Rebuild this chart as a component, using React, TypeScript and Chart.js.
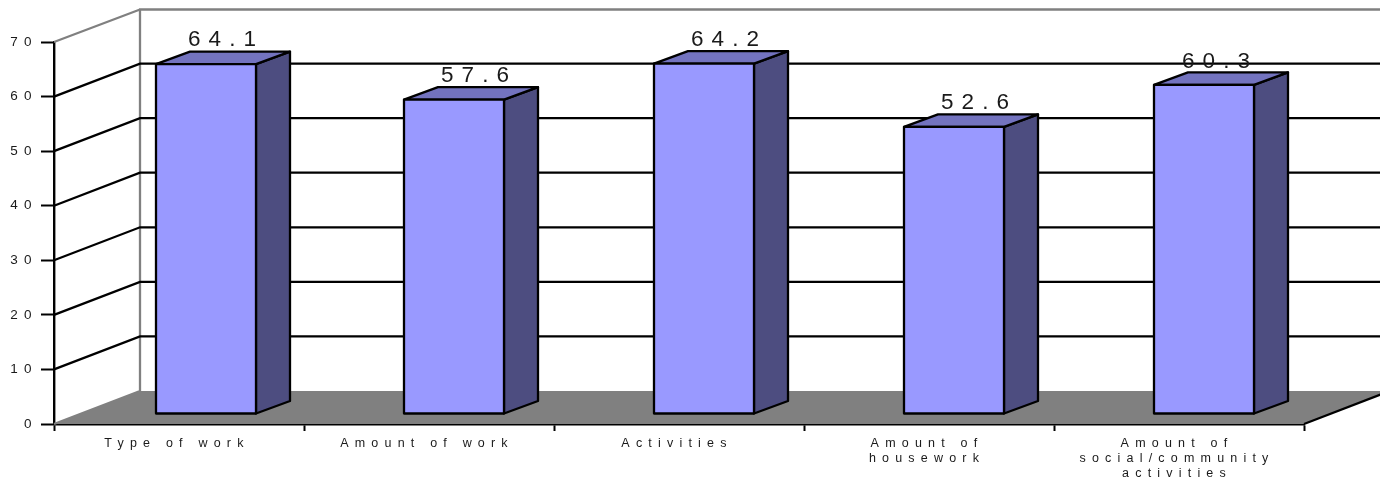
import React, { useEffect, useRef } from "react";
import { Chart, registerables } from "chart.js";

Chart.register(...registerables);

const categories: (string | string[])[] = [
  "Type of work",
  "Amount of work",
  "Activities",
  ["Amount of", "housework"],
  ["Amount of", "social/community", "activities"],
];
const satisfaction = [64.1, 57.6, 64.2, 52.6, 60.3];
const yTickStep = 10;
const yMax = 70;

const FRONT = "#9999FF";
const SIDE = "#4D4D80";
const TOP = "#7373BF";
const FLOOR = "#808080";
const WALL_LINE = "#808080";
const INK = "#1a1a1a";

// 3D projection of the chart box
const BOX_DX = 86;
const BOX_DY = -33;
const BAR_OFF_X = 25;
const BAR_OFF_Y = -10;
const BAR_DX = 34;
const BAR_DY = -12.5;
const FIRST_BAR_NUDGE = 2;
const LABEL_SHIFT_X = [16, 21, 21, 21, 12];
const LABEL_GAP = 5.5;
const LINE = 2.3;

const box3d = {
  id: "box3d",
  beforeDraw(chart: any) {
    chart.ctx.letterSpacing = "6.2px";
  },
  afterDatasetsUpdate(chart: any) {
    const el = chart.getDatasetMeta(0).data[0];
    if (el) el.x += FIRST_BAR_NUDGE;
  },
  beforeDatasetsDraw(chart: any) {
    const { ctx, chartArea, scales, width } = chart;
    const { left, right, top, bottom } = chartArea;
    const y = scales.y;

    ctx.save();
    ctx.lineCap = "butt";
    // floor
    ctx.fillStyle = FLOOR;
    ctx.beginPath();
    ctx.moveTo(left, bottom);
    ctx.lineTo(right, bottom);
    ctx.lineTo(right + BOX_DX, bottom + BOX_DY);
    ctx.lineTo(left + BOX_DX, bottom + BOX_DY);
    ctx.closePath();
    ctx.fill();
    // floor right edge
    ctx.strokeStyle = "#000";
    ctx.lineWidth = LINE;
    ctx.beginPath();
    ctx.moveTo(right, bottom);
    ctx.lineTo(right + BOX_DX, bottom + BOX_DY);
    ctx.stroke();

    // wall frame
    ctx.strokeStyle = WALL_LINE;
    ctx.beginPath();
    ctx.moveTo(left, bottom);
    ctx.lineTo(left + BOX_DX, bottom + BOX_DY);
    ctx.lineTo(left + BOX_DX, top + BOX_DY + 0.5);
    ctx.lineTo(width, top + BOX_DY + 0.5);
    ctx.moveTo(left, top);
    ctx.lineTo(left + BOX_DX, top + BOX_DY + 0.5);
    ctx.stroke();

    // wall grid lines
    ctx.strokeStyle = "#000";
    ctx.beginPath();
    for (const t of y.ticks) {
      if (t.value === 0 || t.value === yMax) continue;
      const py = y.getPixelForValue(t.value);
      ctx.moveTo(left, py);
      ctx.lineTo(left + BOX_DX, py + BOX_DY);
      ctx.lineTo(width, py + BOX_DY);
    }
    ctx.stroke();

    // value labels, under the bars
    const meta = chart.getDatasetMeta(0);
    ctx.letterSpacing = "8px";
    ctx.font = "22.5px 'Liberation Sans', Arial, sans-serif";
    ctx.fillStyle = INK;
    ctx.textAlign = "center";
    ctx.textBaseline = "alphabetic";
    meta.data.forEach((el: any, i: number) => {
      const backTop = el.y + BAR_OFF_Y + BAR_DY;
      ctx.fillText(
        satisfaction[i].toFixed(1),
        el.x + BAR_OFF_X + LABEL_SHIFT_X[i] + 4,
        backTop - LABEL_GAP + (el.y > 150 ? 4 : 0) + (el.y > 90 && el.y < 100 ? 1 : 0)
      );
    });
    ctx.restore();

    // bar sides and tops, in the bar plane
    ctx.save();
    ctx.translate(BAR_OFF_X, BAR_OFF_Y);
    ctx.lineWidth = LINE;
    ctx.strokeStyle = "#000";
    ctx.lineJoin = "round";
    meta.data.forEach((el: any) => {
      const p = el.getProps(["x", "y", "base", "width"], true);
      const l = p.x - p.width / 2;
      const r = p.x + p.width / 2;
      ctx.fillStyle = SIDE;
      ctx.beginPath();
      ctx.moveTo(r, p.y);
      ctx.lineTo(r + BAR_DX, p.y + BAR_DY);
      ctx.lineTo(r + BAR_DX, p.base + BAR_DY);
      ctx.lineTo(r, p.base);
      ctx.closePath();
      ctx.fill();
      ctx.stroke();
      ctx.fillStyle = TOP;
      ctx.beginPath();
      ctx.moveTo(l, p.y);
      ctx.lineTo(l + BAR_DX, p.y + BAR_DY);
      ctx.lineTo(r + BAR_DX, p.y + BAR_DY);
      ctx.lineTo(r, p.y);
      ctx.closePath();
      ctx.fill();
      ctx.stroke();
    });
    // the library's own bars are painted in this plane
  },
  afterDatasetsDraw(chart: any) {
    const { ctx } = chart;
    const meta = chart.getDatasetMeta(0);
    meta.data.forEach((el: any) => {
      const p = el.getProps(["x", "y", "base", "width"], true);
      ctx.strokeRect(p.x - p.width / 2, p.y, p.width, p.base - p.y);
    });
    ctx.restore();
    ctx.letterSpacing = "6.2px";
  },
};

export default function App() {
  const ref = useRef<HTMLCanvasElement>(null);
  useEffect(() => {
    const chart = new Chart(ref.current as HTMLCanvasElement, {
      type: "bar",
      data: {
        labels: categories as any,
        datasets: [
          {
            data: satisfaction,
            backgroundColor: FRONT,
            borderWidth: 0,
            barPercentage: 0.4,
            categoryPercentage: 1,
            clip: false as any,
          },
        ],
      },
      options: {
        responsive: false,
        animation: false,
        devicePixelRatio: 1,
        layout: { padding: { top: 42, right: 76, left: 0, bottom: 0 } },
        plugins: { legend: { display: false }, tooltip: { enabled: false } },
        scales: {
          x: {
            afterFit: (s: any) => {
              s.height = 53;
            },
            grid: {
              drawOnChartArea: false,
              drawTicks: true,
              tickLength: 7,
              tickWidth: 2,
              tickColor: "#000",
            },
            border: { color: "#000", width: 2.4 },
            ticks: {
              autoSkip: false,
              maxRotation: 0,
              minRotation: 0,
              padding: 5,
              labelOffset: -2,
              color: INK,
              font: { family: "'Liberation Sans', Arial, sans-serif", size: 12.5, lineHeight: 1.2 },
            },
          },
          y: {
            min: 0,
            max: yMax,
            afterFit: (s: any) => {
              s.width = 54;
            },
            grid: {
              drawOnChartArea: false,
              drawTicks: true,
              tickLength: 13,
              tickWidth: 2,
              tickColor: "#000",
            },
            border: { color: "#000", width: 2.4 },
            ticks: {
              stepSize: yTickStep,
              padding: 3.3,
              color: INK,
              font: { family: "'Liberation Sans', Arial, sans-serif", size: 13.5 },
            },
          },
        },
      },
      plugins: [box3d],
    } as any);
    return () => chart.destroy();
  }, []);
  return (
    <canvas
      ref={ref}
      width={1380}
      height={477}
      style={{ position: "fixed", left: 0, top: 0, width: 1380, height: 477, display: "block" }}
    />
  );
}
